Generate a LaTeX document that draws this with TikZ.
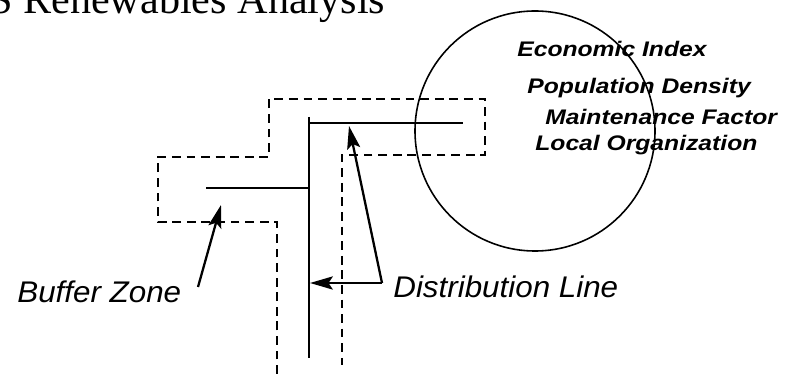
\documentclass[tikz,border=0pt]{standalone}
\usepackage{fontspec}
\setmainfont{Liberation Serif}
\newfontfamily\labelfont{Liberation Sans}
\usetikzlibrary{arrows.meta}

\begin{document}
\begin{tikzpicture}[x=0.02cm, y=-0.02cm,
        linelabel/.style={anchor=base west, inner sep=0pt, font=\labelfont\itshape\fontsize{17}{19}\selectfont},
        factorlabel/.style={anchor=base west, inner sep=0pt, font=\labelfont\bfseries\itshape\fontsize{12}{14}\selectfont},
        buffer/.style={line width=1.2pt, dash pattern=on 5pt off 3.3pt},
        wire/.style={line width=1.2pt},
        pointer/.style={line width=1.3pt, -{Stealth[length=13pt, width=7.5pt, inset=2.5pt]}}]
            \useasboundingbox (0,0) rectangle (787,374);
            \clip (0,0) rectangle (787,374);

            %title (runs off the top edge)
            \node[anchor=base west, inner sep=0pt, font=\fontsize{24}{28}\selectfont] (title) at (-11, 14) {S Renewables Analysis};

            %service area and its factors
            \draw[line width=0.9pt] (535, 131) circle[radius=120];
            \node[factorlabel] (econ) at (517, 57) {\scalebox{1.17}[1]{Economic Index}};
            \node[factorlabel] (popd) at (527, 94) {\scalebox{1.17}[1]{Population Density}};
            \node[factorlabel] (maint) at (545, 125) {\scalebox{1.17}[1]{Maintenance Factor}};
            \node[factorlabel] (local) at (535, 151) {\scalebox{1.17}[1]{Local Organization}};

            %buffer zone outline
            \draw[buffer] (277, 374) -- (277, 222) -- (158, 222) -- (158, 157) -- (269, 157)
                -- (269, 99) -- (485, 99) -- (485, 155) -- (342, 155) -- (342, 365);

            %distribution line
            \coordinate (top) at (309, 117);
            \coordinate (foot) at (309, 358);
            \coordinate (corner) at (309, 123);
            \coordinate (east) at (463, 123);
            \coordinate (branch) at (309, 188);
            \coordinate (west) at (206, 188);
            \draw[wire] (top) -- (foot);
            \draw[wire] (corner) -- (east);
            \draw[wire] (branch) -- (west);

            %labels
            \node[linelabel] (bz) at (17, 303) {\scalebox{1.05}[1]{Buffer Zone}};
            \node[linelabel] (dl) at (393, 298) {\scalebox{1.05}[1]{Distribution Line}};

            %pointers
            \coordinate (bztail) at (198, 287);
            \coordinate (bztip) at (221, 205);
            \coordinate (bend) at (382, 283);
            \coordinate (dltip) at (310, 283);
            \coordinate (dlup) at (349, 126);
            \draw[pointer] (bztail) -- (bztip);
            \draw[pointer] (bend) -- (dltip);
            \draw[pointer] (bend) -- (dlup);
        \end{tikzpicture}
\end{document}
